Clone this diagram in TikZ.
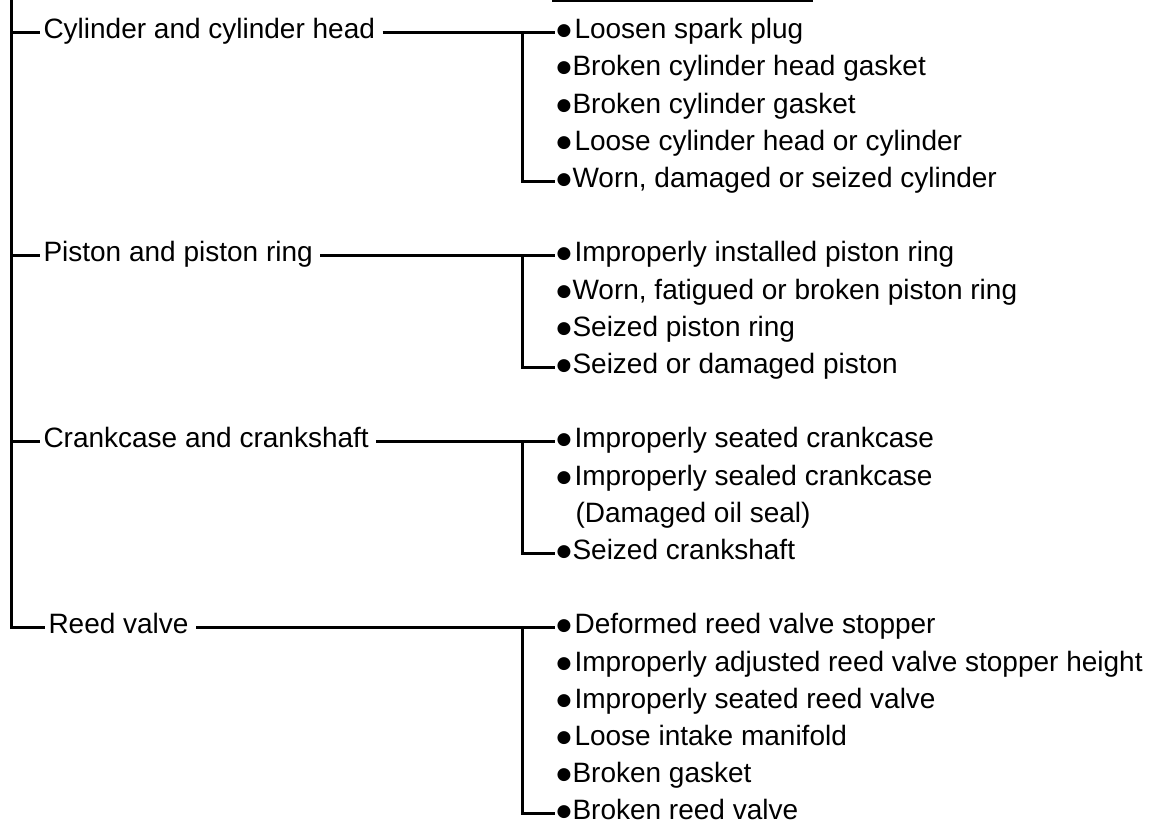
\documentclass[tikz,border=0pt]{standalone}
\usepackage{fontspec}
\setmainfont{Liberation Sans}
\newfontfamily\symfont{DejaVu Sans}
\newcommand\blt{\raisebox{1.5pt}{\symfont\fontsize{8.5}{9}\selectfont ●}\kern0.6pt}

\tikzset{
  group/.style={anchor=west, inner sep=0pt, text height=9pt, text depth=2.5pt,
    font=\fontsize{14}{16}\selectfont},
  cause/.style={group},
}

\begin{document}
\begin{tikzpicture}[x=0.5pt, y=-0.5pt, line width=1.5pt]
    \useasboundingbox (0,0) rectangle (1157,831);
    % rule of the heading, cut at the top edge
    \draw[line width=0.6pt] (552,1) -- (813,1);
    \coordinate (top) at (11,0);
    \coordinate (bx) at (522,0);

    % groups
    \node[group] (cyl) at (42,32) {Cylinder and cylinder head};
    \node[group] (pis) at (42,255) {Piston and piston ring};
    \node[group] (crk) at (42,441) {Crankcase and crankshaft};
    \node[group] (rv) at (47,627) {Reed valve};

    % causes
    \node[cause] (c1) at (555,32) {\blt\kern1pt Loosen spark plug};
    \node[cause] (c2) at (555,69) {\blt Broken cylinder head gasket};
    \node[cause] (c3) at (555,107) {\blt Broken cylinder gasket};
    \node[cause] (c4) at (555,144) {\blt\kern1pt Loose cylinder head or cylinder};
    \node[cause] (c5) at (555,181) {\blt Worn, damaged or seized cylinder};

    \node[cause] (p1) at (555,255) {\blt\kern1pt Improperly installed piston ring};
    \node[cause] (p2) at (555,293) {\blt Worn, fatigued or broken piston ring};
    \node[cause] (p3) at (555,330) {\blt Seized piston ring};
    \node[cause] (p4) at (555,367) {\blt Seized or damaged piston};

    \node[cause] (k1) at (555,441) {\blt\kern1pt Improperly seated crankcase};
    \node[cause] (k2) at (555,479) {\blt\kern1pt Improperly sealed crankcase};
    \node[cause] (k2b) at (574,516) {(Damaged oil seal)};
    \node[cause] (k3) at (555,553) {\blt Seized crankshaft};

    \node[cause] (r1) at (555,627) {\blt\kern1pt Deformed reed valve stopper};
    \node[cause] (r2) at (555,665) {\blt\kern1pt Improperly adjusted reed valve stopper height};
    \node[cause] (r3) at (555,702) {\blt\kern1pt Improperly seated reed valve};
    \node[cause] (r4) at (555,739) {\blt\kern1pt Loose intake manifold};
    \node[cause] (r5) at (555,776) {\blt Broken gasket};
    \node[cause] (r6) at (555,813) {\blt Broken reed valve};

    % trunk
    \draw (top) |- ([xshift=-1pt]rv.west);
    \foreach \g in {cyl,pis,crk}
        \draw (top |- \g.west) -- ([xshift=-1pt]\g.west);

    % branches
    \foreach \g/\a/\b in {cyl/c1/c5, pis/p1/p4, crk/k1/k3, rv/r1/r6} {
        \draw ([xshift=3pt]\g.east) -- (\a.west);
        \draw (\a.west -| bx) |- (\b.west);
    }
\end{tikzpicture}
\end{document}
